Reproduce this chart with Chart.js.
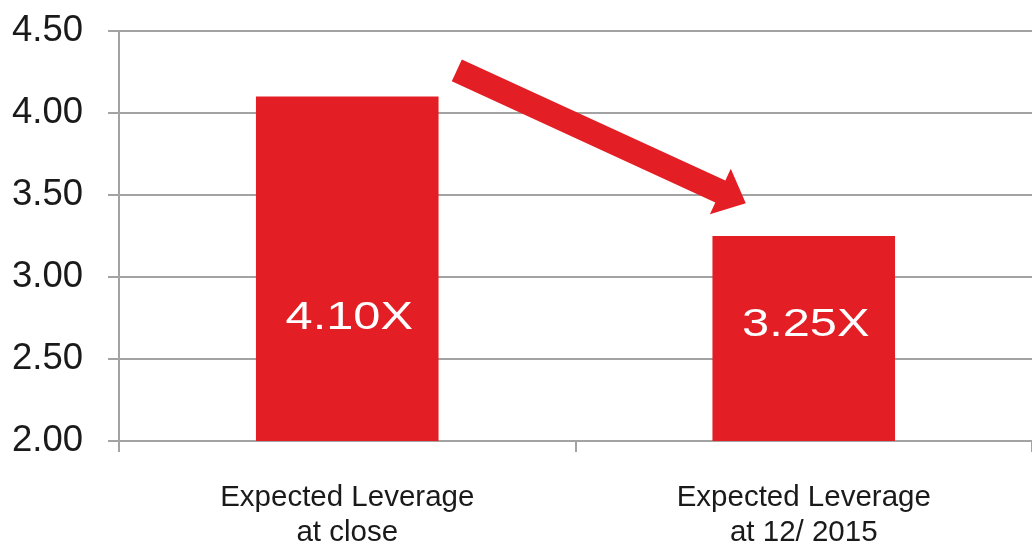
<!DOCTYPE html>
<html>
<head>
<meta charset="utf-8">
<script src="https://cdn.jsdelivr.net/npm/chart.js@4/dist/chart.umd.min.js"></script>
<style>
  html, body { margin: 0; padding: 0; background: #ffffff; }
  #wrap { width: 1032px; height: 551px; position: relative; }
</style>
</head>
<body>
<div id="wrap"><canvas id="chart"></canvas></div>
<script>
// Category labels (two lines each)
const categories = [
  ['Expected Leverage', 'at close'],
  ['Expected Leverage', 'at 12/ 2015']
];
// Leverage multiples
const leverage = [4.10, 3.25];
// Y axis range and step
const yMin = 2.0;
const yMax = 4.5;
const yStep = 0.5;

const RED = '#e31e24';
const GRID = '#a3a3a3';

// Writes the multiple ("4.10X") inside each bar in white, in a wide face
const barLabels = {
  id: 'barLabels',
  afterDatasetsDraw(chart, args, opts) {
    const { ctx, scales } = chart;
    const meta = chart.getDatasetMeta(0);
    meta.data.forEach((bar, i) => {
      const v = chart.data.datasets[0].data[i];
      const y = scales.y.getPixelForValue(opts.baselines[i]);
      ctx.save();
      ctx.fillStyle = '#ffffff';
      ctx.font = '39px "Liberation Sans", Arial, sans-serif';
      ctx.textAlign = 'center';
      ctx.textBaseline = 'alphabetic';
      ctx.translate(bar.x + 2, y);
      ctx.scale(1.25, 1);
      ctx.fillText(v.toFixed(2) + 'X', 0, 0);
      ctx.restore();
    });
  }
};

// Downward arrow between the two bars, anchored in axis units
const trendArrow = {
  id: 'trendArrow',
  afterDatasetsDraw(chart, args, o) {
    const { ctx, scales } = chart;
    const x0 = scales.x.getPixelForValue(o.from[0]);
    const y0 = scales.y.getPixelForValue(o.from[1]);
    const x1 = scales.x.getPixelForValue(o.to[0]);
    const y1 = scales.y.getPixelForValue(o.to[1]);
    const len = Math.hypot(x1 - x0, y1 - y0);
    const ang = Math.atan2(y1 - y0, x1 - x0);
    const sw = o.shaftWidth / 2, hw = o.headWidth / 2, hl = o.headLength;
    ctx.save();
    ctx.translate(x0, y0);
    ctx.rotate(ang);
    ctx.beginPath();
    ctx.moveTo(0, -sw);
    ctx.lineTo(len - hl, -sw);
    ctx.lineTo(len - hl, -hw);
    ctx.lineTo(len, 0);
    ctx.lineTo(len - hl, hw);
    ctx.lineTo(len - hl, sw);
    ctx.lineTo(0, sw);
    ctx.closePath();
    ctx.fillStyle = o.color;
    ctx.fill();
    ctx.restore();
  }
};

new Chart(document.getElementById('chart'), {
  type: 'bar',
  data: {
    labels: categories,
    datasets: [{
      data: leverage,
      backgroundColor: RED,
      borderWidth: 0,
      barPercentage: 0.8,
      categoryPercentage: 0.5
    }]
  },
  options: {
    responsive: true,
    maintainAspectRatio: false,
    animation: false,
    layout: { padding: { top: 31, right: 0, bottom: 0, left: 0 } },
    plugins: {
      legend: { display: false },
      tooltip: { enabled: false },
      barLabels: { baselines: [2.68, 2.64] },
      trendArrow: {
        from: [0.24, 4.26],
        to: [0.873, 3.45],
        shaftWidth: 24,
        headWidth: 50,
        headLength: 28,
        color: RED
      }
    },
    scales: {
      x: {
        grid: {
          display: true,
          drawOnChartArea: false,
          drawTicks: true,
          tickLength: 11,
          color: GRID,
          lineWidth: 2
        },
        border: { display: true, color: GRID, width: 2 },
        ticks: {
          color: '#1a1a1a',
          padding: 28,
          maxRotation: 0,
          font: { family: '"Liberation Sans", Arial, sans-serif', size: 29.5, lineHeight: 1.2 }
        },
        afterFit(scale) { scale.height = 110; }
      },
      y: {
        min: yMin,
        max: yMax,
        grid: {
          color: GRID,
          lineWidth: 2,
          drawTicks: true,
          tickLength: 11
        },
        border: { display: true, color: GRID, width: 2 },
        ticks: {
          stepSize: yStep,
          padding: 25,
          color: '#1a1a1a',
          font: { family: '"Liberation Sans", Arial, sans-serif', size: 36.5 },
          callback: (v) => Number(v).toFixed(2)
        },
        afterFit(scale) {
          scale.width = 119;
          scale.paddingTop = 0;
          scale.paddingBottom = 0;
        }
      }
    }
  },
  plugins: [barLabels, trendArrow]
});
</script>
</body>
</html>
